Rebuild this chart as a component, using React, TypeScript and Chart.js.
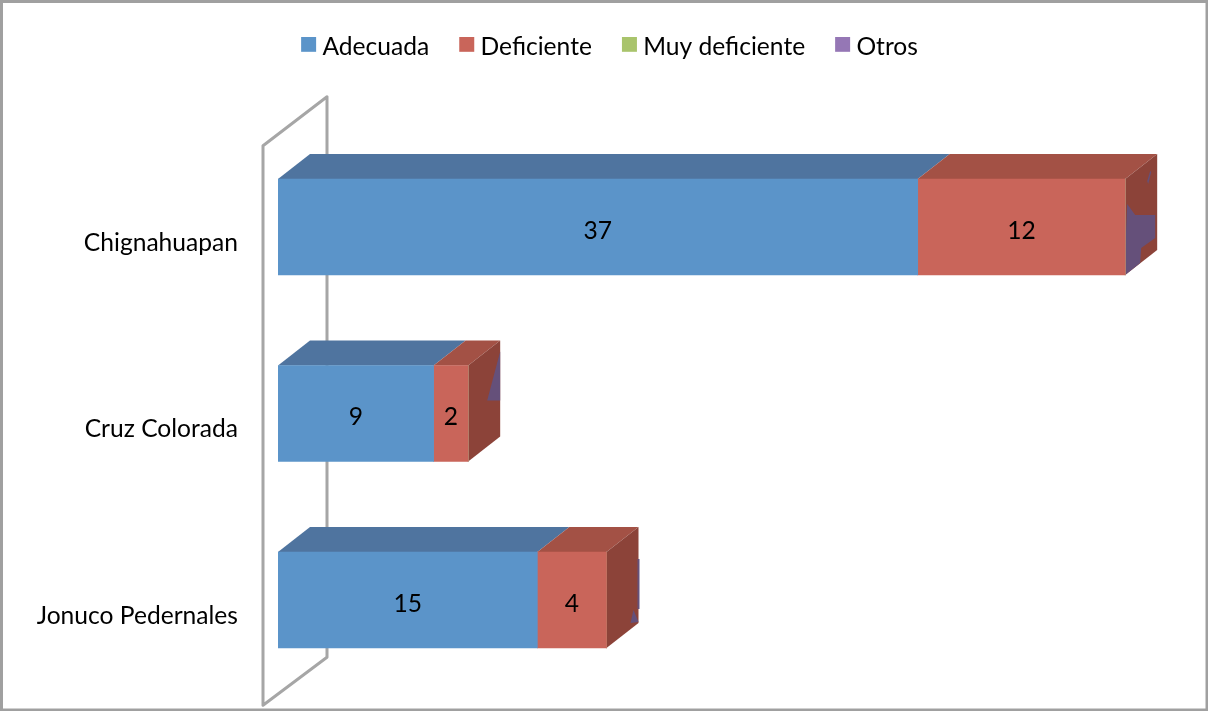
import React, { useEffect, useRef } from "react";
import { Chart, registerables } from "chart.js";

Chart.register(...registerables);

const categories = ["Chignahuapan", "Cruz Colorada", "Jonuco Pedernales"];
const adecuada = [37, 9, 15];
const deficiente = [12, 2, 4];
const muyDeficiente = [0, 0, 0];
const otros = [0, 0, 0];

const FONT = "Lato, Carlito, sans-serif";
const frontColors = ["#5B94C9", "#C9655A", "#A9C46C", "#9577B5"];
const topColors = ["#4F749F", "#A35145", "#86995A", "#75608E"];
const sideColor = "#8C4339";
const artefactColor = "#65507A";
const DX = 32;
const DY = -25;

const artefacts: number[][][][] = [
  [
    [[0, 72], [2, 25], [10, 36], [30, 36], [30, 59], [16, 69], [15, 84], [0, 96]],
    [[22, 2], [25, -8], [26, -7], [23, 5]],
  ],
  [[[32, -14], [19, 35], [32, 35]]],
  [
    [[31, 7], [33, 7], [33, 57], [31, 57]],
    [[24, 71], [27, 58], [32, 70]],
  ],
];

function swatch(color: string) {
  const c = document.createElement("canvas");
  c.width = 31;
  c.height = 21;
  const g = c.getContext("2d")!;
  g.fillStyle = color;
  g.fillRect(11, 0, 15, 15);
  return c;
}

const poly = (ctx: CanvasRenderingContext2D, pts: number[][], fill: string) => {
  ctx.beginPath();
  pts.forEach(([x, y], i) => (i ? ctx.lineTo(x, y) : ctx.moveTo(x, y)));
  ctx.closePath();
  ctx.fillStyle = fill;
  ctx.fill();
};

const depthPlugin = {
  id: "depth",
  beforeDatasetsDraw(chart: any) {
    const ctx: CanvasRenderingContext2D = chart.ctx;
    const x0 = chart.scales.x.getPixelForValue(0);
    const area = chart.chartArea;
    ctx.save();
    const fx = x0 - 15;
    const bx = fx + 64;
    ctx.strokeStyle = "#A6A6A6";
    ctx.lineWidth = 3;
    ctx.lineJoin = "round";
    ctx.beginPath();
    ctx.moveTo(fx, area.top + 12);
    ctx.lineTo(bx, area.top - 37);
    ctx.lineTo(bx, area.bottom - 36);
    ctx.lineTo(fx, area.bottom + 12);
    ctx.closePath();
    ctx.stroke();
    categories.forEach((_, i) => {
      let lastEl: any = null;
      chart.data.datasets.forEach((ds: any, d: number) => {
        const el = chart.getDatasetMeta(d).data[i];
        if (!el || !ds.data[i]) return;
        const top = el.y - el.height / 2;
        poly(ctx, [[el.base, top], [el.x, top], [el.x + DX, top + DY], [el.base + DX, top + DY]], topColors[d]);
        lastEl = el;
      });
      if (lastEl) {
        const top = lastEl.y - lastEl.height / 2;
        const bot = lastEl.y + lastEl.height / 2;
        const x = lastEl.x;
        poly(ctx, [[x, top], [x + DX, top + DY], [x + DX, bot + DY], [x, bot]], sideColor);
        artefacts[i].forEach((shape) =>
          poly(ctx, shape.map(([a, b]) => [x + a, top + b]), artefactColor)
        );
      }
    });
    ctx.restore();
  },
  afterDatasetsDraw(chart: any) {
    const ctx: CanvasRenderingContext2D = chart.ctx;
    ctx.save();
    ctx.font = `24.6px ${FONT}`;
    ctx.fillStyle = "#000";
    ctx.textAlign = "center";
    ctx.textBaseline = "middle";
    chart.data.datasets.forEach((ds: any, d: number) => {
      chart.getDatasetMeta(d).data.forEach((el: any, i: number) => {
        if (ds.data[i]) ctx.fillText(String(ds.data[i]), (el.x + el.base) / 2, el.y + 4);
      });
    });
    ctx.restore();
  },
  afterDraw(chart: any) {
    const ctx: CanvasRenderingContext2D = chart.ctx;
    ctx.save();
    ctx.strokeStyle = "#A0A0A0";
    ctx.lineWidth = 3;
    ctx.strokeRect(1.5, 1.5, chart.width - 2.5, chart.height - 2.5);
    ctx.restore();
  },
};

export default function App() {
  const ref = useRef<HTMLCanvasElement>(null);
  useEffect(() => {
    const names = ["Adecuada", "Deficiente", "Muy deficiente", "Otros"];
    const series = [adecuada, deficiente, muyDeficiente, otros];
    const chart = new Chart(ref.current!, {
      type: "bar",
      data: {
        labels: categories,
        datasets: names.map((label, i) => ({
          label,
          data: series[i],
          backgroundColor: frontColors[i],
          borderWidth: 0,
          barThickness: 96,
        })),
      },
      plugins: [depthPlugin],
      options: {
        indexAxis: "y",
        animation: false,
        responsive: false,
        layout: { padding: { left: 33.3, right: 22.3, top: 5, bottom: 17.75 } },
        scales: {
          x: {
            stacked: true,
            position: "top",
            min: 0,
            max: 52.5,
            grid: { display: false },
            border: { display: false },
            ticks: { display: false },
            afterFit: (s: any) => { s.height = 64.15; },
          },
          y: {
            stacked: true,
            grid: { display: false, drawTicks: false },
            border: { display: false },
            ticks: { padding: 40, labelOffset: 16, color: "#000", font: { family: FONT, size: 24.6 } },
            afterFit: (s: any) => {
              s.width = 244.7;
              s.paddingTop = 0;
              s.paddingBottom = 0;
            },
          },
        },
        plugins: {
          tooltip: { enabled: false },
          legend: {
            position: "top",
            labels: {
              color: "#000",
              font: { family: FONT, size: 24.6 },
              padding: 30,
              usePointStyle: true,
              pointStyleWidth: 9,
              generateLabels: () =>
                names.map((text, i) => ({
                  text,
                  fontColor: "#000",
                  pointStyle: swatch(frontColors[i]),
                  datasetIndex: i,
                  lineWidth: 0,
                })),
            },
          },
        },
      },
    } as any);
    return () => chart.destroy();
  }, []);
  return (
    <div style={{ position: "fixed", left: 0, top: 0, width: 1208, height: 711, background: "#fff" }}>
      <canvas ref={ref} width={1208} height={711} style={{ display: "block" }} />
    </div>
  );
}
